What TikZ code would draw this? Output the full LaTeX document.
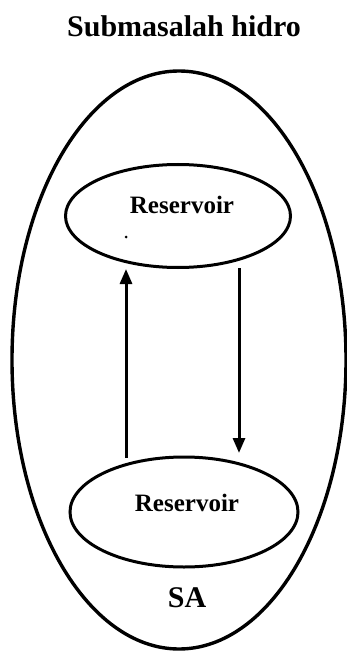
\documentclass[tikz,border=0pt]{standalone}
\usepackage{fontspec}
\setmainfont{Liberation Serif}
\usetikzlibrary{arrows.meta,shapes.geometric}
\begin{document}
\begin{tikzpicture}[x=1pt,y=-1pt,
  oval/.style={draw,ellipse,line width=3pt,inner sep=0pt},
  lbl/.style={font=\bfseries\fontsize{25}{25}\selectfont},
  flow/.style={line width=3pt,-{Triangle[length=15pt,width=12pt]}}]
  \useasboundingbox (0,0) rectangle (346,652);
  % title
  \node[font=\bfseries\fontsize{30}{30}\selectfont] (title) at (184,26) {Submasalah hidro};
  % outer region
  \node[oval,line width=3.4pt,minimum width=334pt,minimum height=578pt] (sa) at (179,360) {};
  % reservoirs
  \node[oval,minimum width=225pt,minimum height=103pt] (top) at (178,216) {};
  \node[lbl] (toplbl) at (182,205) {Reservoir};
  \node[oval,minimum width=228pt,minimum height=110pt] (bot) at (184,512) {};
  \node[lbl] (botlbl) at (187,503) {Reservoir};
  \node[font=\bfseries\fontsize{30}{30}\selectfont] (salbl) at (187,598) {SA};
  % stray mark
  \fill (126,237) circle (1.5pt);
  % flows between the reservoirs
  \coordinate (upA) at (126,458);
  \coordinate (upB) at (126,269);
  \coordinate (dnA) at (239,268);
  \coordinate (dnB) at (239,453);
  \draw[flow] (upA) -- (upB);
  \draw[flow] (dnA) -- (dnB);
\end{tikzpicture}
\end{document}
